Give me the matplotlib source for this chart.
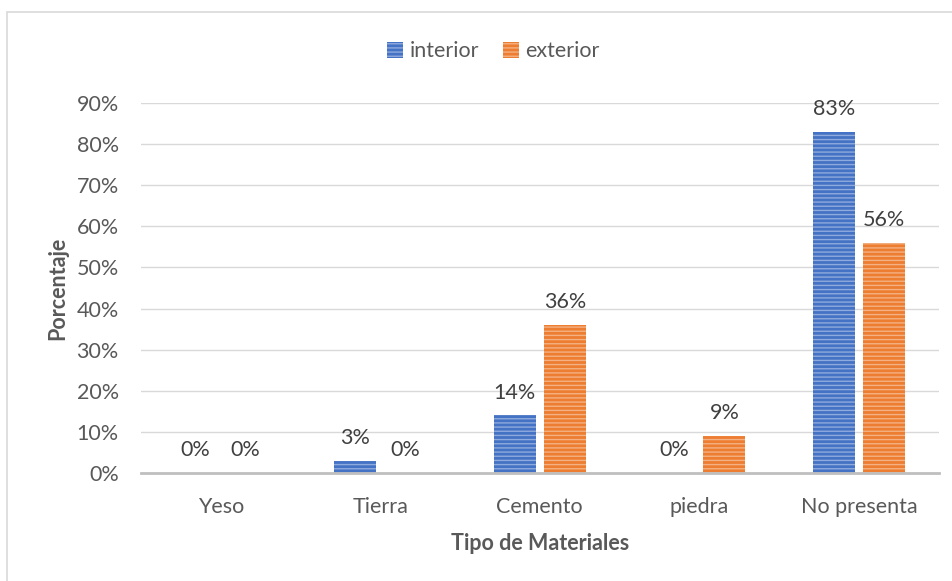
import matplotlib.pyplot as plt
import numpy as np
from matplotlib.patches import Rectangle

categorias = ['Yeso', 'Tierra', 'Cemento', 'piedra', 'No presenta']
interior = [0, 3, 14, 0, 83]
exterior = [0, 0, 36, 9, 56]
yticks = [0, 10, 20, 30, 40, 50, 60, 70, 80, 90]

plt.rcParams['font.family'] = ['Lato', 'DejaVu Sans']
plt.rcParams['hatch.linewidth'] = 1.0
gris = '#595959'
fs = 15.5

fig = plt.figure(figsize=(9.52, 5.81), dpi=100)
ax = fig.add_axes([0.148, 0.186, 0.838, 0.6367])

# marco exterior del grafico (solo visible arriba e izquierda)
fig.patches.append(Rectangle((7 / 952, -0.1), 1.2, (581 - 12) / 581 + 0.1,
                             transform=fig.transFigure, fill=False,
                             edgecolor='#D9D9D9', linewidth=1.2))

x = np.arange(len(categorias))
w = 0.262
off = 0.157
b1 = ax.bar(x - off, interior, w, color='#4472C4', edgecolor='#8FAADC',
            linewidth=0, hatch='----', label='interior', zorder=3)
b2 = ax.bar(x + off, exterior, w, color='#ED7D31', edgecolor='#F4B183',
            linewidth=0, hatch='----', label='exterior', zorder=3)

for bars, vals in ((b1, interior), (b2, exterior)):
    for r, v in zip(bars, vals):
        ax.annotate(f'{v}%', (r.get_x() + r.get_width() / 2, v),
                    xytext=(0, 9), textcoords='offset points',
                    ha='center', va='bottom', fontsize=fs, color='#404040')

ax.set_ylim(0, 90)
ax.set_xlim(-0.5, len(categorias) - 0.5)
ax.set_yticks(yticks)
ax.set_yticklabels([f'{t}%' for t in yticks])
ax.set_xticks(x)
ax.set_xticklabels(categorias)
ax.tick_params(axis='both', length=0, labelsize=fs, colors=gris)
ax.tick_params(axis='y', pad=16)
ax.tick_params(axis='x', pad=17)
ax.grid(axis='y', color='#D9D9D9', linewidth=1, zorder=0)
ax.set_axisbelow(True)
for s in ['top', 'right', 'left']:
    ax.spines[s].set_visible(False)
ax.spines['bottom'].set_color('#BFBFBF')
ax.spines['bottom'].set_linewidth(2)
ax.spines['bottom'].set_zorder(4)

ax.set_ylabel('Porcentaje', fontsize=fs, fontweight='bold', color=gris,
              labelpad=6)
ax.set_xlabel('Tipo de Materiales', fontsize=fs, fontweight='bold',
              color=gris, labelpad=12)

leg = fig.legend(loc='center', bbox_to_anchor=(0.518, 0.912), ncol=2,
                 frameon=False, fontsize=fs, handlelength=0.75,
                 handleheight=0.75, handletextpad=0.3, columnspacing=1.1)
for t in leg.get_texts():
    t.set_color(gris)

fig.savefig('out.png', dpi=100)
